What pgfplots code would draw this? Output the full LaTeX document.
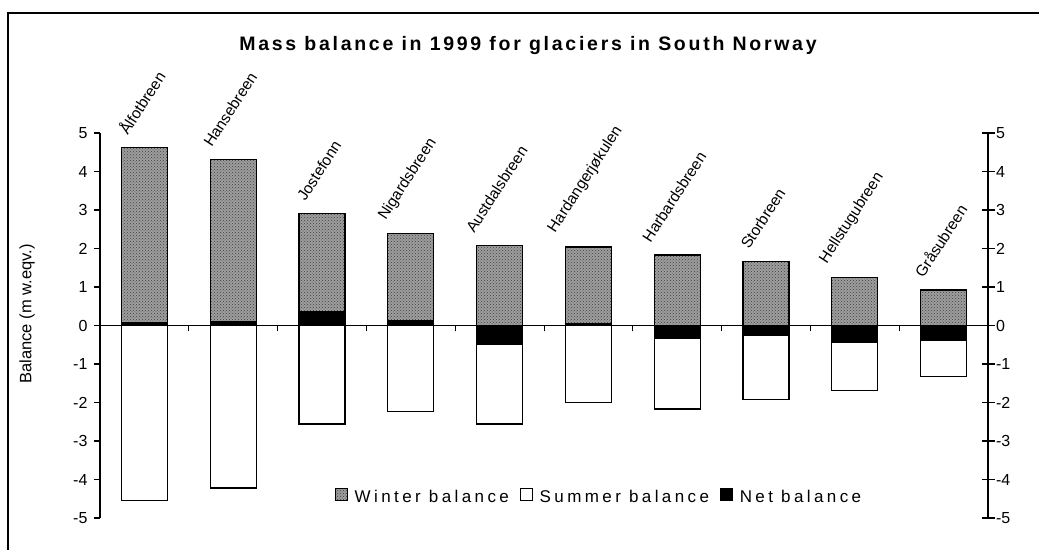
\documentclass[border=0pt]{standalone}
\usepackage{fontspec}
\setmainfont{Liberation Sans}
\usepackage{pgfplots}
\usepackage{pgfplotstable}
\pgfplotsset{compat=1.18}
\usetikzlibrary{patterns}

% winter, summer and net balance (m w.eq.), 1999
\pgfplotstableread{
x    w     s      n      label
0.5  4.62  -4.55  0.07   Ålfotbreen
1.5  4.31  -4.22  0.09   Hansebreen
2.5  2.91  -2.56  0.35   Jostefonn
3.5  2.38  -2.24  0.14   Nigardsbreen
4.5  2.08  -2.56  -0.48  Austdalsbreen
5.5  2.04  -2.00  0.04   Hardangerjøkulen
6.5  1.83  -2.17  -0.34  Harbardsbreen
7.5  1.66  -1.93  -0.27  Storbreen
8.5  1.25  -1.69  -0.44  Hellstugubreen
9.5  0.92  -1.32  -0.40  Gråsubreen
}\glaciers

\pgfplotsset{
  frame/.style={at={(100pt,31pt)}, anchor=south west,
    scale only axis, width=888pt, height=385pt,
    xmin=0, xmax=10, ymin=-5, ymax=5,
    every tick/.style={black, line width=1.2pt},
    yticklabel style={font=\fontsize{16}{18}\selectfont},
    /pgf/number format/assume math mode=true},
}

\begin{document}
\begin{tikzpicture}[x=1pt,y=1pt]
\path[use as bounding box] (0,0) rectangle (1039,549);
\draw[line width=1.3pt] (8,-10) -- (8,536) -- (1050,536);
\node[font=\fontsize{19.5}{22}\selectfont\bfseries\addfontfeatures{LetterSpace=14}] at (528,503) {Mass balance in 1999 for glaciers in South Norway};

% bars, left axis and zero line
\begin{axis}[frame,
  ybar,
  axis x line=middle, axis y line=left,
  axis line style={-, line width=1.3pt},
  xtick=\empty,
  ytick={-5,...,5}, ytick align=outside,
  major tick length=6pt,
  yticklabel style={xshift=-3pt},
  every axis y label/.style={at={(axis description cs:-0.082,0.53)}, rotate=90, anchor=center},
  ylabel={\fontsize{16.5}{18}\selectfont Balance (m w.eqv.)},
  legend columns=3,
  legend style={at={(axis cs:5.62,-4.45)}, anchor=center, draw=none, fill=none,
    font=\fontsize{17}{19}\selectfont\addfontfeatures{LetterSpace=20},
    /tikz/every odd column/.append style={column sep=5pt}},
  legend image code/.code={\draw[#1, line width=0.8pt] (0pt,-4pt) rectangle (12pt,8pt);},
  clip=false,
]
\addplot[draw=black, line width=1.2pt, fill=black!38,
  postaction={pattern=crosshatch dots, pattern color=black!75},
  bar width=0.52, bar shift=0pt,
  point meta=explicit symbolic,
  nodes near coords={\rotatebox{57}{\pgfplotspointmeta}},
  every node near coord/.style={anchor=south, inner sep=0pt, yshift=11pt, xshift=-3pt,
    font=\fontsize{15.5}{17}\selectfont}]
  table[x=x, y=w, meta=label] {\glaciers};
\addlegendentry{Winter balance\rule{9pt}{0pt}}
\addplot[draw=black, line width=1.2pt, fill=white, bar width=0.52, bar shift=0pt]
  table[x=x, y=s] {\glaciers};
\addlegendentry{Summer balance\rule{9pt}{0pt}}
\addplot[draw=black, line width=1.2pt, fill=black, bar width=0.52, bar shift=0pt]
  table[x=x, y=n] {\glaciers};
\addlegendentry{Net balance}
\end{axis}

% category boundary ticks below the zero line
\begin{axis}[frame,
  at={(100pt,223.5pt)},
  ymin=0, ymax=1, height=10pt,
  axis x line=bottom, axis y line=none,
  axis line style={draw=none},
  xtick={1,2,3,4,5.003,6,7,8,9}, xticklabels={}, xtick align=outside,
  major tick length=6pt,
]
\end{axis}

% right axis
\begin{axis}[frame,
  axis x line=none, axis y line=right,
  axis line style={-, line width=1.3pt},
  xtick=\empty,
  ytick={-5,...,5}, ytick align=center,
  major tick length=13pt,
  yticklabel style={xshift=-2pt},
]
\end{axis}
\end{tikzpicture}
\end{document}
